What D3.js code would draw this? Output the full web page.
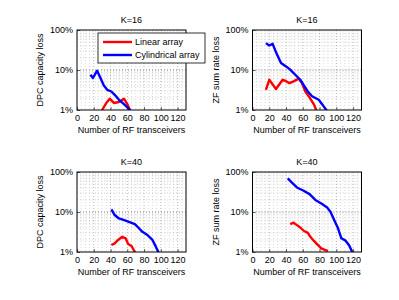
<!DOCTYPE html>
<html><head><meta charset="utf-8">
<script src="https://cdn.jsdelivr.net/npm/d3@7"></script>
<style>body{margin:0;background:#fff}svg{display:block}text{font-family:"Liberation Sans",Arial,sans-serif;fill:#000}</style>
</head><body>
<script>
// ---- data ----
const xTickValues = [0, 20, 40, 60, 80, 100, 120];
const yTickValues = [1, 10, 100];
const yTickLabels = ["1%", "10%", "100%"];
const titles = ["K=16", "K=16", "K=40", "K=40"];
const yLabels = ["DPC capacity loss", "ZF sum rate loss", "DPC capacity loss", "ZF sum rate loss"];
const seriesNames = ["Linear array", "Cylindrical array"];

const dpc16LinearX = [28, 30, 35, 39, 44, 50, 56, 60, 63, 65];
const dpc16LinearY = [0.8, 1.0, 1.5, 1.92, 1.5, 1.58, 1.92, 1.41, 1.0, 0.8];
const dpc16CylX = [16, 19, 24, 28, 32, 36, 41, 45, 50, 56, 61, 63, 65];
const dpc16CylY = [7.6, 6.3, 9.6, 6.3, 4.1, 3.2, 2.9, 2.4, 1.8, 1.4, 1.12, 1.0, 0.85];

const zf16LinearX = [16, 20, 28, 36, 39, 44, 49, 55, 59, 63, 68, 73, 76, 78];
const zf16LinearY = [3.2, 5.7, 3.35, 5.7, 5.4, 4.7, 5.2, 6.1, 4.7, 2.9, 2.07, 1.41, 1.0, 0.85];
const zf16CylX = [16, 20, 24, 29, 34, 40, 45, 51, 57, 62, 66, 71, 79, 83, 88, 90];
const zf16CylY = [47, 41, 45, 25, 15, 12.3, 10.2, 7.6, 5.7, 3.9, 2.9, 2.2, 1.8, 1.4, 1.0, 0.9];

const dpc40LinearX = [41, 45, 49, 54, 58, 61, 65, 69, 70];
const dpc40LinearY = [1.5, 1.65, 2.0, 2.4, 2.2, 1.58, 1.41, 1.0, 0.9];
const dpc40CylX = [41, 45, 50, 58, 69, 73, 78, 84, 90, 94, 97, 98];
const dpc40CylY = [11.7, 8.4, 6.9, 6.1, 5.0, 4.1, 3.2, 2.66, 2.0, 1.36, 1.0, 0.9];

const zf40LinearX = [45, 49, 53, 57, 61, 66, 69, 73, 77, 82, 87, 90];
const zf40LinearY = [5.0, 5.4, 4.7, 4.1, 3.4, 3.0, 2.4, 1.92, 1.58, 1.23, 1.12, 1.06];
const zf40CylX = [42, 47, 53, 61, 68, 75, 83, 89, 93, 97, 102, 106, 111, 115, 119, 120];
const zf40CylY = [69, 54, 41, 34, 28, 20, 15.8, 13, 10.2, 6.6, 3.9, 2.2, 1.92, 1.5, 1.0, 0.9];

// ---- layout ----
const W = 399, H = 300;
const pw = 109, ph = 80;
const panels = [
  {left: 77, top: 30, lx: dpc16LinearX, ly: dpc16LinearY, cx: dpc16CylX, cy: dpc16CylY, legend: true},
  {left: 252.5, top: 30, lx: zf16LinearX, ly: zf16LinearY, cx: zf16CylX, cy: zf16CylY},
  {left: 77, top: 172, lx: dpc40LinearX, ly: dpc40LinearY, cx: dpc40CylX, cy: dpc40CylY},
  {left: 252.5, top: 172, lx: zf40LinearX, ly: zf40LinearY, cx: zf40CylX, cy: zf40CylY}
];
const colors = ["#ff0000", "#0000ff"];

const svg = d3.select("body").append("svg").attr("width", W).attr("height", H);

panels.forEach((p, i) => {
  const g = svg.append("g").attr("transform", `translate(${p.left},${p.top})`);
  const x = d3.scaleLinear().domain([0, 130]).range([0, pw]);
  const y = d3.scaleLog().domain([1, 100]).range([ph, 0]);

  // grid
  const grid = g.append("g").attr("stroke", "#777").attr("stroke-width", 0.6)
    .attr("stroke-dasharray", "1,2");
  const xg = d3.range(5, 130, 5);
  grid.selectAll("line.vx").data(xg).join("line")
    .attr("x1", d => x(d)).attr("x2", d => x(d)).attr("y1", 0).attr("y2", ph)
    .attr("stroke-opacity", d => d % 20 === 0 ? 0.9 : 0.45);
  const yg = [];
  [1, 10].forEach(dec => { for (let k = 1; k <= 10; k++) { const v = dec * k; if (v > 1 && v < 100) yg.push(v); } });
  grid.selectAll("line.hy").data(yg).join("line")
    .attr("x1", 0).attr("x2", pw).attr("y1", d => y(d)).attr("y2", d => y(d))
    .attr("stroke-opacity", d => (d === 10) ? 0.9 : 0.55);

  // clip
  const cid = "clip" + i;
  g.append("clipPath").attr("id", cid).append("rect").attr("width", pw).attr("height", ph);

  const line = d3.line().x(d => x(d[0])).y(d => y(d[1]));
  const series = [d3.zip(p.lx, p.ly), d3.zip(p.cx, p.cy)];
  series.forEach((s, j) => {
    g.append("path").attr("clip-path", `url(#${cid})`).attr("d", line(s))
      .attr("fill", "none").attr("stroke", colors[j]).attr("stroke-width", 2.4)
      .attr("stroke-linejoin", "round");
  });

  // axes
  const xAxis = d3.axisBottom(x).tickValues(xTickValues).tickSizeInner(-3).tickSizeOuter(0).tickPadding(5);
  const xa = g.append("g").attr("transform", `translate(0,${ph})`).call(xAxis);
  const yAxis = d3.axisLeft(y).tickValues(yTickValues).tickFormat((d, k) => yTickLabels[k])
    .tickSizeInner(-3).tickSizeOuter(0).tickPadding(4);
  const ya = g.append("g").call(yAxis);
  [xa, ya].forEach(a => {
    a.select(".domain").remove();
    a.selectAll("text").attr("font-size", 9).attr("font-family", "Liberation Sans, Arial, sans-serif");
    a.selectAll("line").attr("stroke", "#000").attr("stroke-width", 0.6);
  });
  // frame
  g.append("rect").attr("width", pw).attr("height", ph).attr("fill", "none")
    .attr("stroke", "#000").attr("stroke-width", 1);

  // titles
  g.append("text").attr("x", pw / 2).attr("y", -7).attr("text-anchor", "middle")
    .attr("font-size", 9).text(titles[i]);
  g.append("text").attr("x", pw / 2).attr("y", ph + 23).attr("text-anchor", "middle")
    .attr("font-size", 9).text("Number of RF transceivers");
  g.append("text").attr("transform", `translate(-34,${ph / 2}) rotate(-90)`)
    .attr("text-anchor", "middle").attr("font-size", 9).text(yLabels[i]);

  if (p.legend) {
    const lg = g.append("g").attr("transform", "translate(21,3)");
    lg.append("rect").attr("width", 107).attr("height", 30).attr("fill", "#fff")
      .attr("stroke", "#000").attr("stroke-width", 0.8);
    seriesNames.forEach((n, j) => {
      const yy = 9 + j * 13;
      lg.append("line").attr("x1", 5).attr("x2", 34).attr("y1", yy).attr("y2", yy)
        .attr("stroke", colors[j]).attr("stroke-width", 2.4);
      lg.append("text").attr("x", 37).attr("y", yy + 3.3).attr("font-size", 9).text(n);
    });
  }
});
</script>
</body></html>
